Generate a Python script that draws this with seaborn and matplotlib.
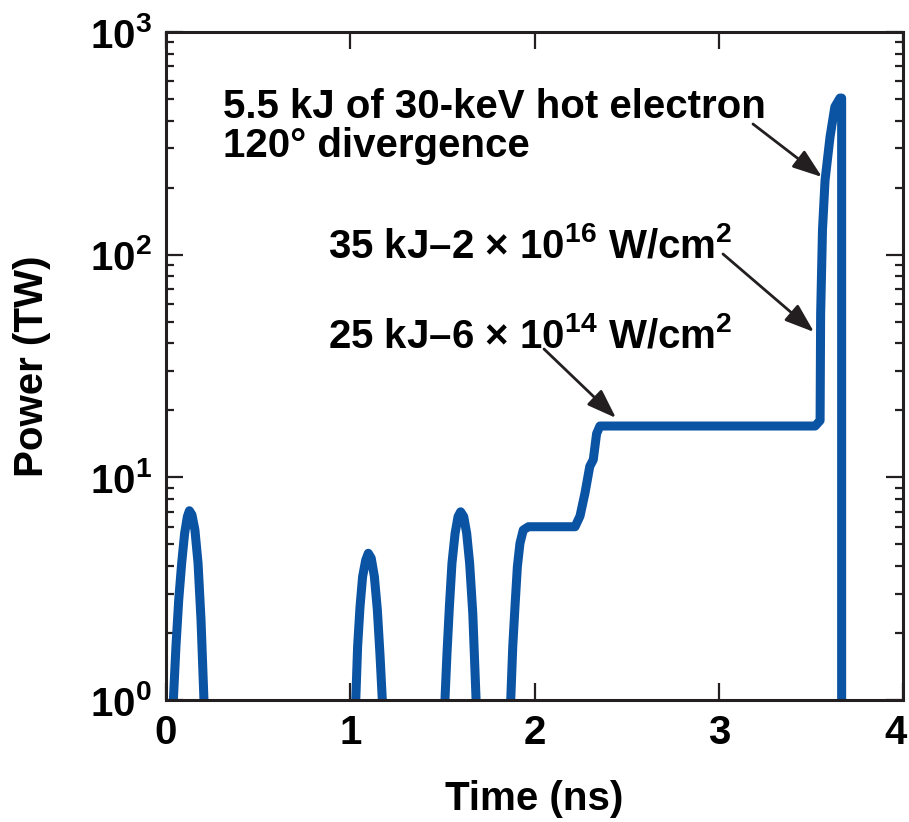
import numpy as np
import pandas as pd
import matplotlib
matplotlib.use("Agg")
import matplotlib.pyplot as plt
import matplotlib.transforms as mtransforms
from matplotlib.ticker import LogLocator, FixedLocator, NullLocator
import seaborn as sns

# ---- data ----
pulse1_t = [0.040, 0.054, 0.069, 0.085, 0.101, 0.116, 0.127, 0.141, 0.157, 0.174, 0.190, 0.206]
pulse1_p = [1.0, 1.74, 2.81, 4.11, 5.6, 6.66, 7.08, 6.78, 5.8, 4.11, 2.29, 1.0]

pulse2_t = [1.030, 1.040, 1.053, 1.067, 1.084, 1.098, 1.114, 1.131, 1.147, 1.161, 1.174]
pulse2_p = [1.0, 1.74, 2.62, 3.58, 4.25, 4.56, 4.33, 3.58, 2.54, 1.62, 1.0]

pulse3_t = [1.514, 1.525, 1.538, 1.552, 1.569, 1.585, 1.599, 1.616, 1.632, 1.648, 1.665, 1.683]
pulse3_p = [1.0, 1.62, 2.62, 4.11, 5.6, 6.66, 7.0, 6.66, 5.6, 4.11, 2.45, 1.0]

main_t = [1.871, 1.882, 1.894, 1.907, 1.921, 1.939, 1.967, 2.220, 2.247, 2.274,
          2.300, 2.319, 2.337, 2.355, 3.523, 3.550, 3.553, 3.563, 3.577, 3.604,
          3.630, 3.658, 3.667, 3.667]
main_p = [1.0, 1.74, 2.62, 3.97, 5.05, 5.8, 6.0, 6.0, 6.7, 8.5,
          11.2, 12.0, 15.7, 17.0, 17.0, 18.0, 54.0, 129.0, 216.0, 338.0,
          461.0, 505.0, 505.0, 1.0]

x_ticks = [0, 1, 2, 3, 4]
y_ticks = [1, 10, 100, 1000]

x_label = "Time (ns)"
y_label = "Power (TW)"
note_hot = ["5.5 kJ of 30-keV hot electron", "120\u00b0 divergence"]
note_35 = "35 kJ\u20132 \u00d7 10$^{16}$ W/cm$^{2}$"
note_25 = "25 kJ\u20136 \u00d7 10$^{14}$ W/cm$^{2}$"

segments = [pulse1_t, pulse2_t, pulse3_t, main_t]
seg_p = [pulse1_p, pulse2_p, pulse3_p, main_p]
df = pd.concat(
    [pd.DataFrame({"t": t, "p": p, "seg": i}) for i, (t, p) in enumerate(zip(segments, seg_p))],
    ignore_index=True,
)

# ---- style ----
sns.set_style("ticks")
plt.rcParams["font.family"] = ["Liberation Sans", "DejaVu Sans"]
plt.rcParams["font.weight"] = "bold"
plt.rcParams["mathtext.fontset"] = "custom"
plt.rcParams["mathtext.rm"] = "Liberation Sans:bold"
plt.rcParams["mathtext.it"] = "Liberation Sans:bold"
plt.rcParams["mathtext.bf"] = "Liberation Sans:bold"
plt.rcParams["mathtext.default"] = "rm"
for k in ["text.color", "axes.labelcolor", "xtick.labelcolor", "ytick.labelcolor"]:
    plt.rcParams[k] = "black"

FS = 29
LINE_COLOR = "#0b53a3"
INK = "#231f20"

fig = plt.figure(figsize=(9.09, 8.22), dpi=100)
ax = fig.add_axes([166 / 909, 122 / 822, 737 / 909, 668 / 822])

sns.lineplot(data=df, x="t", y="p", units="seg", estimator=None, sort=False,
             color=LINE_COLOR, linewidth=6.5, ax=ax,
             solid_joinstyle="round", solid_capstyle="butt")

ax.set_yscale("log")
ax.set_xlim(0, 4)
ax.set_ylim(1, 1000)

ax.xaxis.set_major_locator(FixedLocator(x_ticks))
ax.xaxis.set_minor_locator(NullLocator())
ax.yaxis.set_major_locator(FixedLocator(y_ticks))
ax.yaxis.set_minor_locator(LogLocator(base=10, subs=np.arange(2, 10)))
ax.set_yticklabels([f"$10^{{{int(np.log10(v))}}}$" for v in y_ticks])
ax.set_xticklabels([str(v) for v in x_ticks])

ax.tick_params(which="both", direction="in", top=True, right=True,
               color=INK, width=1.6, labelsize=FS, labelcolor="black")
ax.tick_params(which="major", length=12.5, pad=10)
ax.tick_params(which="minor", length=6)
for lab in ax.get_xticklabels() + ax.get_yticklabels():
    lab.set_fontweight("bold")

# nudge the last x tick label so it stays inside the figure
last = ax.get_xticklabels()[-1]
last.set_transform(last.get_transform() +
                   mtransforms.ScaledTranslation(-7 / 100, 0, fig.dpi_scale_trans))

for s in ax.spines.values():
    s.set_linewidth(2.2)
    s.set_color(INK)
    s.set_visible(True)

ax.set_xlabel(x_label, fontsize=FS, fontweight="bold", labelpad=20)
ax.set_ylabel(y_label, fontsize=FS, fontweight="bold", labelpad=28)

# ---- annotations ----
def px2data(px, py):
    return (px - 166) / 184.25, 10 ** ((700 - py) / 222.67)

arrow = dict(arrowstyle="-|>,head_length=0.9,head_width=0.32", color=INK,
             lw=2.0, shrinkA=0, shrinkB=0, mutation_scale=20)

x, y = px2data(223, 118)
ax.text(x, y, note_hot[0], fontsize=FS, fontweight="bold", va="baseline", ha="left")
x, y = px2data(223, 157)
ax.text(x, y, note_hot[1], fontsize=FS, fontweight="bold", va="baseline", ha="left")
x, y = px2data(328, 257)
ax.text(x, y, note_35, fontsize=FS, fontweight="bold", va="baseline", ha="left")
x, y = px2data(328, 347)
ax.text(x, y, note_25, fontsize=FS, fontweight="bold", va="baseline", ha="left")

for (tx, ty), (hx, hy) in [((753, 124), (822, 177)),
                           ((723, 254), (814, 332)),
                           ((544, 349), (616, 418))]:
    ax.annotate("", xy=px2data(hx, hy), xytext=px2data(tx, ty), arrowprops=arrow)

fig.savefig("out.png", dpi=100)
